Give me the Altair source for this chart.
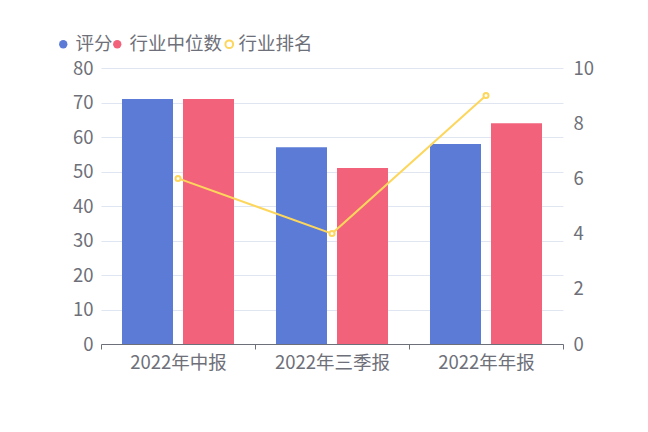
import altair as alt
import pandas as pd

periods = ["2022年中报", "2022年三季报", "2022年年报"]
score = [71, 57, 58]
median = [71, 51, 64]
rank = [6, 4, 9]

bar_df = pd.DataFrame({
    "period": periods * 2,
    "series": ["评分"] * 3 + ["行业中位数"] * 3,
    "value": score + median,
})
line_df = pd.DataFrame({"period": periods, "series": ["行业排名"] * 3, "rank": rank})

FONT = "Noto Sans CJK SC"
LABEL = "#6e7079"
GRID = "#e0e6f1"
FS = 18.5
BLUE, PINK, YELLOW = "#5b7bd6", "#f2637b", "#fdd65c"

xenc = alt.X("period:N", sort=periods, title=None,
             scale=alt.Scale(paddingInner=0, paddingOuter=0),
             axis=alt.Axis(labelAngle=0, labelFontSize=FS, labelColor=LABEL, labelFont=FONT,
                           domainColor=LABEL, tickColor=LABEL, tickBand="extent", tickSize=5,
                           labelPadding=4, grid=False))
yenc = alt.Y("value:Q", title=None, scale=alt.Scale(domain=[0, 80]),
             axis=alt.Axis(values=[0, 10, 20, 30, 40, 50, 60, 70, 80], labelFontSize=FS,
                           labelColor=LABEL, labelFont=FONT, domain=False, ticks=False,
                           gridColor=GRID, labelPadding=8))

bars = alt.Chart(bar_df).mark_bar().encode(
    x=xenc,
    xOffset=alt.XOffset("series:N", sort=["评分", "行业中位数"],
                        scale=alt.Scale(paddingInner=0.164, paddingOuter=0.344)),
    y=yenc,
    color=alt.Color("series:N", scale=alt.Scale(domain=["评分", "行业中位数"], range=[BLUE, PINK]),
                    legend=None),
)


def legend_layer(name, col, lx):
    return alt.Chart(bar_df).transform_filter(alt.datum.series == name).mark_point(
        filled=True, opacity=0).encode(
        x=xenc,
        y=yenc,
        color=alt.Color("series:N", scale=alt.Scale(domain=[name], range=[col]),
                        legend=alt.Legend(title=None, orient="none", legendX=lx, legendY=-33,
                                          symbolType="circle", symbolSize=70, symbolOpacity=1,
                                          labelFontSize=FS, labelColor=LABEL, labelFont=FONT,
                                          labelOffset=3)),
    )


leg1 = legend_layer("评分", BLUE, -47)
leg2 = legend_layer("行业中位数", PINK, 7)

line = alt.Chart(line_df).mark_line(strokeWidth=2, point=alt.OverlayMarkDef(
    filled=False, fill="white", size=25, strokeWidth=2)).encode(
    x=alt.X("period:N", sort=periods),
    y=alt.Y("rank:Q", title=None, scale=alt.Scale(domain=[0, 10]),
            axis=alt.Axis(orient="right", values=[0, 2, 4, 6, 8, 10], labelFontSize=FS,
                          labelColor=LABEL, labelFont=FONT, domain=False, ticks=False,
                          gridColor=GRID, labelPadding=10)),
    stroke=alt.Stroke("series:N",
                      scale=alt.Scale(domain=["行业排名"], range=[YELLOW]),
                      legend=alt.Legend(title=None, orient="none", legendX=119, legendY=-33,
                                        symbolType="circle", symbolSize=60,
                                        symbolFillColor="white", symbolStrokeWidth=2,
                                        labelFontSize=FS, labelColor=LABEL, labelFont=FONT,
                                        labelOffset=0)),
)

left = alt.layer(bars, leg1, leg2).resolve_scale(color="independent")

chart = alt.layer(left, line).resolve_scale(y="independent", color="independent").properties(
    width=462, height=276,
    autosize=alt.AutoSizeParams(type="none"),
    padding={"left": 93, "top": 60, "right": 77, "bottom": 80},
).configure_view(stroke=None)

chart.save("out.html", embed_options={"renderer": "svg", "actions": False})
